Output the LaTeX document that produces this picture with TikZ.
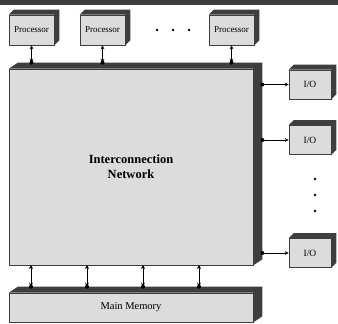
\documentclass[tikz,border=0pt]{standalone}
\usepackage{fontspec}
\setmainfont{Liberation Serif}
\usetikzlibrary{arrows.meta}
\definecolor{face}{HTML}{DCDCDC}
\definecolor{side}{HTML}{3E3E3E}
\tikzset{
  box/.style={draw=side, line width=0.6pt, fill=face, inner sep=0pt, anchor=center},
  proc/.style={box, minimum width=45pt, minimum height=30pt, font=\fontsize{9}{10}\selectfont},
  iobox/.style={box, minimum width=42pt, minimum height=29pt, font=\fontsize{9.5}{10}\selectfont},
  big/.style={box, minimum width=244pt},
  link/.style={line width=0.9pt, draw=black, {Stealth[length=4pt,width=4pt]}-{Stealth[length=4pt,width=4pt]}},
  iolink/.style={line width=0.9pt, draw=black, -{Stealth[length=4pt,width=4pt]}},
  dot/.style={fill=black}
}
\begin{document}
\begin{tikzpicture}[x=1pt,y=-1pt]
\useasboundingbox (0,0) rectangle (338,324);
\fill[side] (0,0) rectangle (338,5);
% processors
\node[proc] (p1) at (31.5,30) {Processor};
\node[proc] (p2) at (102.5,30) {Processor};
\node[proc] (p3) at (231.5,30) {Processor};
% network and memory
\node[big, minimum height=196pt, font=\fontsize{12.5}{15}\selectfont\bfseries, align=center] (net) at (131,167) {Interconnection\\Network};
\node[big, minimum height=29pt, font=\fontsize{10.5}{12}\selectfont] (mem) at (131,307.5) {Main Memory};
% I/O
\node[iobox] (io1) at (310,84.5) {I/O};
\node[iobox] (io2) at (310,140) {I/O};
\node[iobox] (io3) at (310,253) {I/O};
% 3D faces
\foreach \n in {p1,p2,p3,io1,io2,io3}{
  \fill[side] (\n.north west) -- ([shift={(5pt,5pt)}]\n.north west) -- ([shift={(5pt,5pt)}]\n.north east) -- ([shift={(5pt,5pt)}]\n.south east) -- (\n.south east) -- (\n.north east) -- cycle;
}
\foreach \n in {net,mem}{
  \fill[side] (\n.north west) -- ([shift={(9pt,6pt)}]\n.north west) -- ([shift={(9pt,6pt)}]\n.north east) -- ([shift={(9pt,6pt)}]\n.south east) -- (\n.south east) -- (\n.north east) -- cycle;
}
\coordinate (nettop) at ([yshift=6pt]net.north);
\coordinate (netright) at ([xshift=9pt]net.east);
\coordinate (memtop) at ([yshift=6pt]mem.north);
% processor links
\foreach \n in {p1,p2,p3}{
  \draw[link] (\n.south) -- (\n.south |- nettop);
  \fill[dot] (\n.south |- nettop) circle (2pt);
}
% memory links
\foreach \x in {31,87,143,199}{
  \coordinate (b\x) at (\x,265);
  \draw[link] (b\x) -- (b\x |- memtop);
  \fill[dot] (b\x |- memtop) circle (2pt);
}
% I/O links
\foreach \n in {io1,io2,io3}{
  \draw[iolink] (netright |- \n.west) -- (\n.west);
  \fill[dot] (netright |- \n.west) circle (2pt);
}
% ellipses
\foreach \x in {157,173,189} \fill (\x,30) circle (1.3pt);
\foreach \y in {179,195,211} \fill (315,\y) circle (1.3pt);
\end{tikzpicture}
\end{document}
